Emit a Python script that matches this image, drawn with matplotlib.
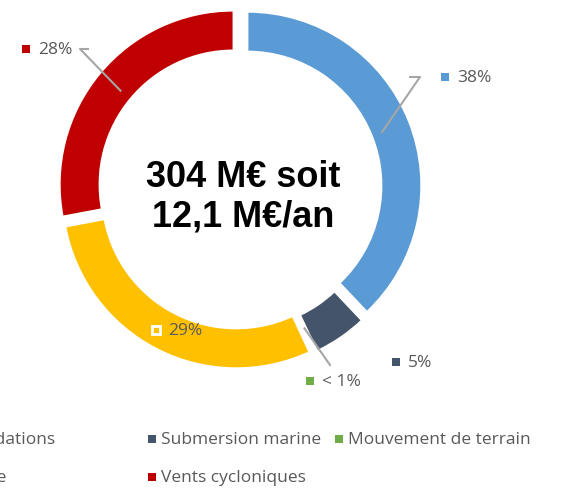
import numpy as np
import matplotlib.pyplot as plt
from matplotlib.patches import Rectangle

# Répartition du coût par aléa (en %)
names = ['Inondations', 'Submersion marine', 'Mouvement de terrain', 'Houle', 'Vents cycloniques']
values = [38, 5, 0.15, 29, 28]
colors = ['#5B9BD5', '#44546A', '#70AD47', '#FFC000', '#C00000']
center_text = '304 M€ soit\n12,1 M€/an'

W, H = 562, 489
fig = plt.figure(figsize=(W / 100, H / 100), dpi=100)
ax = fig.add_axes([0, 0, 1, 1])

cx, cy, R = 239, H - 190, 174
width = 0.23
explode = [9, 6, 0, 6, 7]  # pixels
wedges, _ = ax.pie(values, colors=colors, startangle=90, counterclock=False,
                   center=(cx, cy), radius=R, explode=explode, frame=True,
                   wedgeprops=dict(width=width * R, edgecolor='white', linewidth=1.5))
ax.set_xlim(0, W)
ax.set_ylim(0, H)
ax.set_aspect('equal')
ax.axis('off')

ax.text(cx + 4, cy - 7, center_text, ha='center', va='center', fontsize=26,
        fontweight='bold', family='Liberation Sans', linespacing=1.17)

# labels: (text x, text y, elbow) in pixels from top-left
label_pos = [(457, 78, [(420, 78), (410, 78)]),
             (408, 363, None),
             (322, 382, [(330, 366)]),
             (168, 331, None),
             (38, 50, [(80, 50), (88, 50)])]

gray = '#595959'
total = sum(values)
cum = 0
for i, v in enumerate(values):
    mid = 90 - 360 * (cum + v / 2) / total
    cum += v
    txt = '< 1%' if v < 1 else f'{round(v)}%'
    tx, ty, elbow = label_pos[i]
    ax.text(tx, H - ty, txt, ha='left', va='center', fontsize=12.5,
            color=gray, family='Open Sans')
    edge = 'white' if i == 3 else 'none'
    ax.add_patch(Rectangle((tx - 16, H - ty - 4), 8, 8, facecolor=colors[i],
                           edgecolor=edge, linewidth=2))
    if elbow:
        rm = R * (1 - width / 2)
        a = np.deg2rad(mid)
        px = cx + rm * np.cos(a)
        py = cy + rm * np.sin(a)
        xs = [p[0] for p in elbow][::-1] + [px]
        ys = [H - p[1] for p in elbow][::-1] + [py]
        ax.plot(xs, ys, color='#A6A6A6', lw=1.5)

# legend, laid out row by row like the original (first column cut off)
col_x = [-55, 148, 335]
for i, name in enumerate(names):
    row, col = divmod(i, 3)
    lx = col_x[col]
    ly = H - (440 + row * 38)
    ax.add_patch(Rectangle((lx, ly - 4), 8, 8, facecolor=colors[i], clip_on=False))
    ax.text(lx + 13, ly, name, ha='left', va='center', fontsize=12.5,
            color=gray, family='Open Sans')

fig.savefig('out.png', dpi=100)
